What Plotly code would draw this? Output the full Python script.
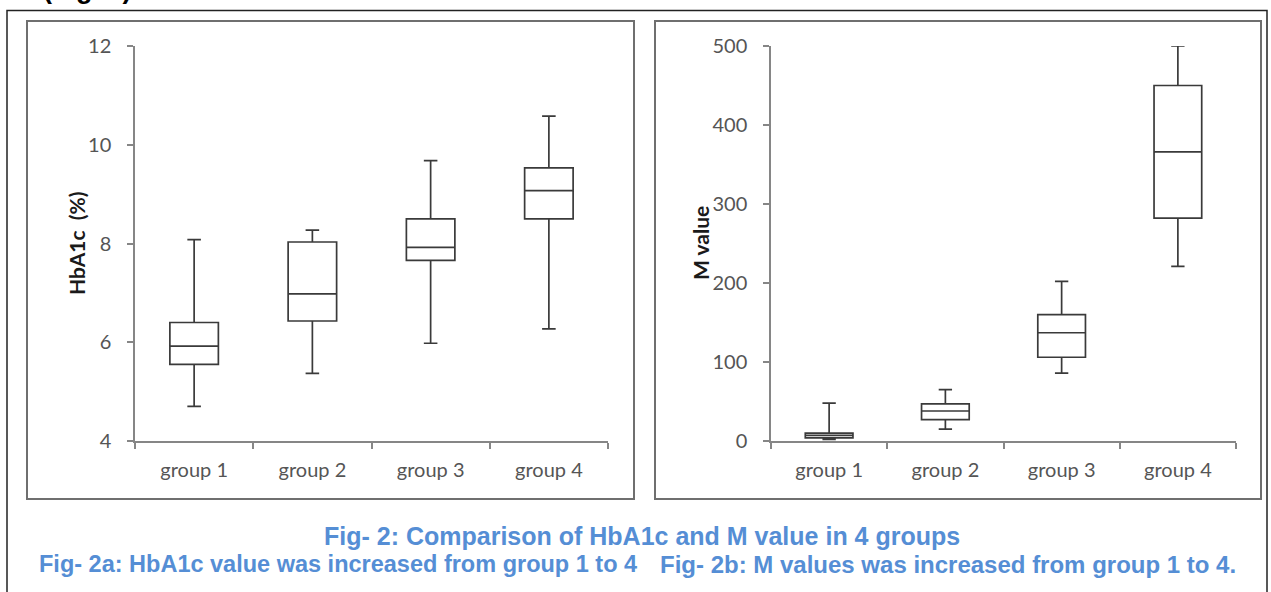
import plotly.graph_objects as go

W, H = 1271, 592

groups = ["group 1", "group 2", "group 3", "group 4"]

# HbA1c (%) box statistics
hba1c_min = [4.70, 5.37, 5.98, 6.27]
hba1c_q1 = [5.55, 6.43, 7.66, 8.50]
hba1c_med = [5.92, 6.98, 7.92, 9.07]
hba1c_q3 = [6.40, 8.03, 8.50, 9.53]
hba1c_max = [8.08, 8.27, 9.68, 10.58]

# M value box statistics
m_min = [2, 15, 86, 221]
m_q1 = [4, 27, 106, 282]
m_med = [7, 38, 137, 366]
m_q3 = [10, 47, 160, 450]
m_max = [48, 65, 202, 500]

hba1c_ticks = [4, 6, 8, 10, 12]
m_ticks = [0, 100, 200, 300, 400, 500]

title_main = "Fig- 2: Comparison of HbA1c and M value in 4 groups"
caption_a = "Fig- 2a: HbA1c value was increased from group 1 to 4"
caption_b = "Fig- 2b: M values was increased from group 1 to 4."

BOX_LINE = "#3a3a3a"
AXIS_COL = "#868686"
TICK_FONT = dict(family="Lato, Calibri, sans-serif", size=20, color="#555555")
BLUE = "#558ED5"


def px(x):
    return x / W


def py(y):
    return 1 - y / H


fig = go.Figure()

fig.add_trace(go.Box(
    x=groups, q1=hba1c_q1, median=hba1c_med, q3=hba1c_q3,
    lowerfence=hba1c_min, upperfence=hba1c_max,
    boxpoints=False, width=0.41, whiskerwidth=0.28,
    fillcolor="white", line=dict(color=BOX_LINE, width=1.7),
    xaxis="x", yaxis="y", showlegend=False, hoverinfo="skip",
))
fig.add_trace(go.Box(
    x=groups, q1=m_q1, median=m_med, q3=m_q3,
    lowerfence=m_min, upperfence=m_max,
    boxpoints=False, width=0.41, whiskerwidth=0.28,
    fillcolor="white", line=dict(color=BOX_LINE, width=1.7),
    xaxis="x2", yaxis="y2", showlegend=False, hoverinfo="skip",
))

xax = dict(
    type="category", range=[-0.5, 3.5], showline=True, linecolor=AXIS_COL,
    linewidth=1.5, ticks="outside", tickson="boundaries", ticklen=6,
    tickcolor=AXIS_COL, tickwidth=1.5, showgrid=False, zeroline=False,
    tickfont=TICK_FONT, ticklabelstandoff=10, fixedrange=True, automargin=False,
)
yax = dict(
    showline=True, linecolor=AXIS_COL, linewidth=1.5, ticks="outside",
    ticklen=6, tickcolor=AXIS_COL, tickwidth=1.5, showgrid=False,
    zeroline=False, tickfont=TICK_FONT, ticklabelstandoff=12, fixedrange=True,
    automargin=False,
)

fig.update_layout(
    width=W, height=H, margin=dict(l=0, r=0, t=0, b=0, pad=0, autoexpand=False),
    paper_bgcolor="white", plot_bgcolor="white",
    xaxis=dict(xax, domain=[px(135), px(608)], anchor="y"),
    yaxis=dict(yax, domain=[py(441), py(46)], range=[4, 12],
               tickvals=hba1c_ticks, anchor="x"),
    xaxis2=dict(xax, domain=[px(771), px(1236)], anchor="y2"),
    yaxis2=dict(yax, domain=[py(441), py(46)], range=[0, 500],
                tickvals=m_ticks, anchor="x2"),
    shapes=[
        # outer frame
        dict(type="rect", xref="paper", yref="paper",
             x0=px(7), x1=px(1267), y0=py(600), y1=py(10.5),
             line=dict(color="#222222", width=1.5), layer="below"),
        # panel frames
        dict(type="rect", xref="paper", yref="paper",
             x0=px(27), x1=px(634), y0=py(499), y1=py(21),
             line=dict(color="#6f6f6f", width=2), layer="below"),
        dict(type="rect", xref="paper", yref="paper",
             x0=px(655), x1=px(1261), y0=py(499), y1=py(21),
             line=dict(color="#6f6f6f", width=2), layer="below"),
    ],
    annotations=[
        dict(text="<b>(Fig. 2)</b>", xref="paper", yref="paper",
             x=px(41), y=py(6.5), xanchor="left", yanchor="bottom",
             showarrow=False,
             font=dict(family="Liberation Sans, Arial", size=27, color="black")),
        dict(text="<b>HbA1c&nbsp;&nbsp;(%)</b>", xref="paper", yref="paper",
             x=px(76), y=py(244), textangle=-90, showarrow=False,
             xanchor="center", yanchor="middle",
             font=dict(family="Lato, Calibri, sans-serif", size=21, color="#1a1a1a")),
        dict(text="<b>M value</b>", xref="paper", yref="paper",
             x=px(700), y=py(243), textangle=-90, showarrow=False,
             xanchor="center", yanchor="middle",
             font=dict(family="Lato, Calibri, sans-serif", size=21, color="#1a1a1a")),
        dict(text="<b>" + title_main + "</b>", xref="paper", yref="paper",
             x=px(642), y=py(536), showarrow=False,
             xanchor="center", yanchor="middle",
             font=dict(family="Liberation Sans, Arial", size=25, color=BLUE)),
        dict(text="<b>" + caption_a + "</b>", xref="paper", yref="paper",
             x=px(37), y=py(564), showarrow=False,
             xanchor="left", yanchor="middle",
             font=dict(family="Liberation Sans, Arial", size=23.5, color=BLUE)),
        dict(text="<b>" + caption_b + "</b>", xref="paper", yref="paper",
             x=px(1238), y=py(564), showarrow=False,
             xanchor="right", yanchor="middle",
             font=dict(family="Liberation Sans, Arial", size=24, color=BLUE)),
    ],
)

fig.write_html("out.html", config={"displayModeBar": False})
